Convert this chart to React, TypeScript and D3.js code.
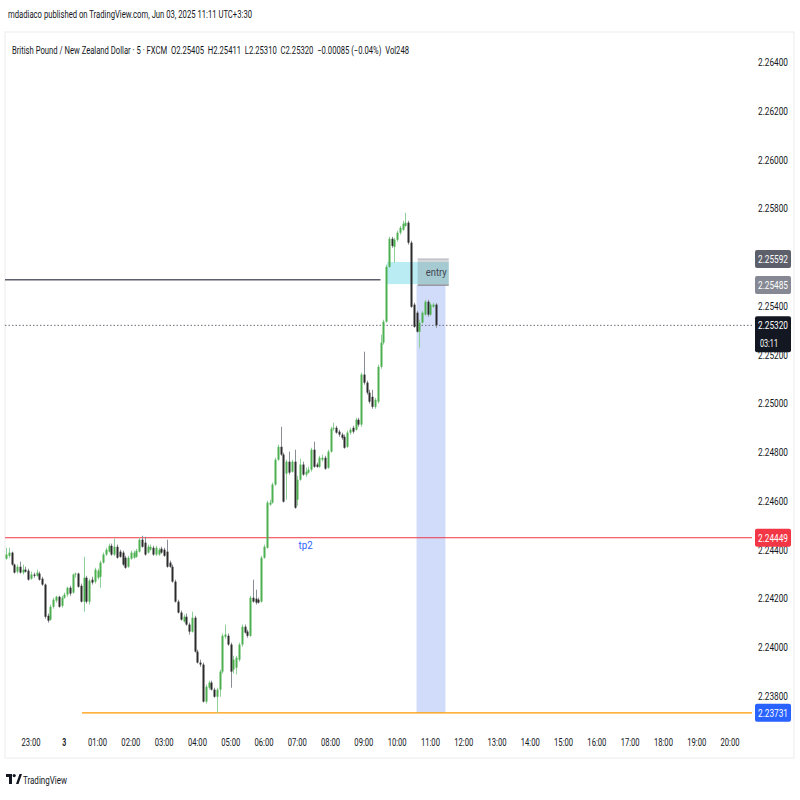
import React from "react";
import * as d3 from "d3";

// ---------- DATA ----------
// 5-minute candles, GBP/NZD (FXCM), first candle 22:15 on Jun 2
const firstCandleTime = new Date(2025, 5, 2, 22, 15);
const candleMinutes = 5;

// [open, high, low, close]
const candles: [number, number, number, number][] = [
  [2.24363, 2.24408, 2.24359, 2.2438],
  [2.24375, 2.24408, 2.24367, 2.24388],
  [2.24388, 2.24392, 2.24334, 2.24339],
  [2.24339, 2.24343, 2.24302, 2.24306],
  [2.2431, 2.24339, 2.24302, 2.2433],
  [2.2433, 2.24351, 2.24302, 2.24306],
  [2.24306, 2.24339, 2.24298, 2.24318],
  [2.24318, 2.2433, 2.24306, 2.2431],
  [2.24314, 2.24322, 2.24273, 2.24277],
  [2.24281, 2.2431, 2.24277, 2.24298],
  [2.24298, 2.24306, 2.24285, 2.24293],
  [2.24293, 2.24318, 2.24289, 2.24306],
  [2.24302, 2.2431, 2.24273, 2.24277],
  [2.24281, 2.24289, 2.24252, 2.24257],
  [2.24257, 2.24261, 2.24117, 2.24125],
  [2.24129, 2.24138, 2.24101, 2.24109],
  [2.24113, 2.24175, 2.24109, 2.24166],
  [2.24166, 2.24203, 2.24158, 2.24195],
  [2.24191, 2.24211, 2.24183, 2.24207],
  [2.24207, 2.24211, 2.24162, 2.24166],
  [2.2417, 2.24211, 2.24162, 2.24203],
  [2.24203, 2.24224, 2.24199, 2.24216],
  [2.24216, 2.24248, 2.24207, 2.24244],
  [2.24244, 2.24252, 2.24211, 2.2422],
  [2.24224, 2.24302, 2.2422, 2.24298],
  [2.24298, 2.24306, 2.24285, 2.24302],
  [2.24302, 2.24306, 2.24244, 2.24248],
  [2.24252, 2.24261, 2.24183, 2.24187],
  [2.24187, 2.24371, 2.24146, 2.24285],
  [2.24285, 2.24293, 2.24179, 2.24187],
  [2.24187, 2.24281, 2.24175, 2.24273],
  [2.24277, 2.24289, 2.24257, 2.24265],
  [2.24269, 2.24326, 2.24261, 2.24318],
  [2.24285, 2.24322, 2.24277, 2.24314],
  [2.24289, 2.24355, 2.24244, 2.24347],
  [2.24347, 2.24388, 2.24343, 2.2438],
  [2.2438, 2.24408, 2.24375, 2.244],
  [2.24392, 2.24425, 2.24388, 2.24416],
  [2.24416, 2.24425, 2.24375, 2.2438],
  [2.2438, 2.24445, 2.24375, 2.24412],
  [2.24412, 2.24421, 2.24363, 2.24367],
  [2.24392, 2.244, 2.24367, 2.24371],
  [2.24388, 2.24396, 2.24334, 2.24339],
  [2.24367, 2.24375, 2.24322, 2.24326],
  [2.2433, 2.24375, 2.24326, 2.24367],
  [2.24363, 2.24396, 2.24359, 2.24388],
  [2.24367, 2.24396, 2.24363, 2.24388],
  [2.24371, 2.24404, 2.24367, 2.24396],
  [2.24392, 2.24449, 2.24388, 2.24441],
  [2.24441, 2.24457, 2.24408, 2.24412],
  [2.24429, 2.24453, 2.24375, 2.2438],
  [2.24388, 2.24421, 2.24384, 2.24412],
  [2.244, 2.24421, 2.24396, 2.24412],
  [2.24408, 2.24416, 2.24375, 2.2438],
  [2.2438, 2.24416, 2.24375, 2.24408],
  [2.2438, 2.24408, 2.24375, 2.244],
  [2.24404, 2.24412, 2.24384, 2.24388],
  [2.244, 2.24408, 2.24371, 2.24375],
  [2.24392, 2.24441, 2.24326, 2.2433],
  [2.24347, 2.24355, 2.24326, 2.2433],
  [2.2433, 2.24339, 2.24265, 2.24269],
  [2.24269, 2.24277, 2.24183, 2.24187],
  [2.24187, 2.24195, 2.24138, 2.24142],
  [2.24142, 2.2415, 2.24109, 2.24113],
  [2.24105, 2.24134, 2.24101, 2.24125],
  [2.24125, 2.24138, 2.24088, 2.24093],
  [2.24093, 2.24101, 2.24052, 2.24064],
  [2.24064, 2.24146, 2.2406, 2.24121],
  [2.24121, 2.24129, 2.23978, 2.23982],
  [2.23982, 2.2399, 2.23933, 2.23937],
  [2.23937, 2.23949, 2.2392, 2.23929],
  [2.23929, 2.23937, 2.23773, 2.23777],
  [2.23777, 2.23847, 2.23769, 2.23838],
  [2.23834, 2.23863, 2.23826, 2.23855],
  [2.23855, 2.23863, 2.23822, 2.23826],
  [2.23826, 2.23834, 2.23793, 2.23797],
  [2.23797, 2.23834, 2.23731, 2.23826],
  [2.23826, 2.23908, 2.23797, 2.239],
  [2.239, 2.24056, 2.23892, 2.24047],
  [2.24043, 2.24093, 2.24035, 2.24052],
  [2.24047, 2.24056, 2.24006, 2.24011],
  [2.24011, 2.24019, 2.23834, 2.239],
  [2.23908, 2.23965, 2.23892, 2.23949],
  [2.23916, 2.23965, 2.23888, 2.23957],
  [2.23949, 2.24019, 2.23941, 2.24011],
  [2.24011, 2.24093, 2.24002, 2.24084],
  [2.24084, 2.24093, 2.24056, 2.2406],
  [2.24064, 2.24072, 2.24039, 2.24047],
  [2.24047, 2.24211, 2.24043, 2.24203],
  [2.24203, 2.24277, 2.24183, 2.24187],
  [2.24199, 2.24236, 2.24175, 2.24183],
  [2.24195, 2.24203, 2.24179, 2.24183],
  [2.24187, 2.24375, 2.24183, 2.24367],
  [2.24367, 2.24421, 2.24363, 2.24412],
  [2.24408, 2.24601, 2.24404, 2.24593],
  [2.24585, 2.24605, 2.2458, 2.24593],
  [2.24593, 2.24675, 2.24589, 2.24667],
  [2.24667, 2.24777, 2.24662, 2.24769],
  [2.24769, 2.24831, 2.24765, 2.24822],
  [2.24822, 2.24904, 2.24785, 2.2479],
  [2.2479, 2.24798, 2.24593, 2.24597],
  [2.24712, 2.24769, 2.24605, 2.24761],
  [2.24761, 2.24802, 2.24708, 2.24716],
  [2.2472, 2.24769, 2.24716, 2.24761],
  [2.24761, 2.2481, 2.24568, 2.24572],
  [2.24605, 2.24703, 2.2458, 2.24687],
  [2.24687, 2.24773, 2.24683, 2.24749],
  [2.24749, 2.24761, 2.24703, 2.24708],
  [2.24708, 2.24736, 2.24699, 2.2472],
  [2.24716, 2.2474, 2.24712, 2.24728],
  [2.24728, 2.24818, 2.2472, 2.2481],
  [2.2481, 2.24843, 2.24736, 2.2474],
  [2.24749, 2.24757, 2.24736, 2.2474],
  [2.2474, 2.24785, 2.24736, 2.24777],
  [2.24769, 2.2479, 2.24761, 2.24777],
  [2.24777, 2.24785, 2.24728, 2.24732],
  [2.24736, 2.2481, 2.24732, 2.24802],
  [2.24802, 2.24904, 2.24798, 2.24896],
  [2.24896, 2.24921, 2.24888, 2.249],
  [2.249, 2.24908, 2.24876, 2.2488],
  [2.24884, 2.24892, 2.24863, 2.24872],
  [2.24872, 2.2488, 2.24851, 2.24859],
  [2.24863, 2.24872, 2.24814, 2.24818],
  [2.24822, 2.24888, 2.24818, 2.2488],
  [2.2488, 2.249, 2.24872, 2.24892],
  [2.249, 2.24908, 2.24876, 2.24884],
  [2.24892, 2.24941, 2.24888, 2.24933],
  [2.24933, 2.24941, 2.24904, 2.24913],
  [2.24913, 2.25126, 2.24904, 2.25118],
  [2.25118, 2.25212, 2.25077, 2.25085],
  [2.25085, 2.25093, 2.25036, 2.25044],
  [2.25044, 2.25056, 2.24999, 2.25007],
  [2.25027, 2.25056, 2.24978, 2.24986],
  [2.24986, 2.25023, 2.24978, 2.25015],
  [2.25007, 2.25159, 2.24999, 2.2515],
  [2.2515, 2.25282, 2.25142, 2.25249],
  [2.25249, 2.25343, 2.25241, 2.25335],
  [2.25335, 2.25569, 2.25331, 2.2556],
  [2.2556, 2.25683, 2.25556, 2.25675],
  [2.25675, 2.25683, 2.25638, 2.25646],
  [2.25642, 2.25679, 2.25577, 2.25671],
  [2.25671, 2.25708, 2.25663, 2.257],
  [2.257, 2.25728, 2.25692, 2.2572],
  [2.25712, 2.25749, 2.25708, 2.25737],
  [2.25728, 2.25782, 2.25724, 2.25741],
  [2.25741, 2.25749, 2.25651, 2.25659],
  [2.25659, 2.25667, 2.25392, 2.25396],
  [2.25405, 2.25413, 2.2531, 2.25314],
  [2.25372, 2.2538, 2.2529, 2.25294],
  [2.25294, 2.25343, 2.25228, 2.25331],
  [2.25331, 2.2538, 2.25327, 2.25372],
  [2.25364, 2.25425, 2.25359, 2.25417],
  [2.25417, 2.25425, 2.25355, 2.25364],
  [2.25364, 2.25413, 2.25359, 2.25405],
  [2.25396, 2.25413, 2.25392, 2.25405],
  [2.25405, 2.25411, 2.2531, 2.2532],
];

const priceTicks = [2.238, 2.24, 2.242, 2.244, 2.246, 2.248, 2.25, 2.252, 2.254, 2.256, 2.258, 2.26, 2.262, 2.264];
const timeTickLabels = ["23:00", "3", "01:00", "02:00", "03:00", "04:00", "05:00", "06:00", "07:00", "08:00", "09:00", "10:00", "11:00", "12:00", "13:00", "14:00", "15:00", "16:00", "17:00", "18:00", "19:00", "20:00"];
const firstTickTime = new Date(2025, 5, 2, 23, 0);

// drawings
const tp2Level = 2.24449;
const lowLevel = 2.23731;
const lastPrice = 2.2532;
const greyRayLevel = 2.25507;
const entryTop = 2.25592;
const entryBottom = 2.25485;
const cyanTop = 2.2558;
const cyanBottom = 2.25489;
const greyRayEnd = new Date(2025, 5, 3, 9, 30);
const cyanStart = new Date(2025, 5, 3, 9, 42);
const boxEnd = new Date(2025, 5, 3, 11, 33);
const entryStart = new Date(2025, 5, 3, 10, 37);
const rangeStart = new Date(2025, 5, 3, 10, 35);
const rangeEnd = new Date(2025, 5, 3, 11, 27);
const lowLineStart = new Date(2025, 5, 3, 0, 32);
const tp2LabelTime = new Date(2025, 5, 3, 7, 15);

const headerTitle = "mdadiaco published on TradingView.com, Jun 03, 2025 11:11 UTC+3:30";
const headerSymbol = "British Pound / New Zealand Dollar · 5 · FXCM  O2.25405  H2.25411  L2.25310  C2.25320  −0.00085 (−0.04%)  Vol248";
const countdown = "03:11";

// ---------- STYLE ----------
const FONT = "Roboto, 'Liberation Sans', sans-serif";
const TEXT = "#131722";
const GREEN = "#4caf50";
const GREEN_WICK = "#8fd09a";
const BLACK = "#2a2a2a";
const BLACK_WICK = "#8a8d96";

export default function App() {
  const frame = { left: 5, right: 794, top: 32, bottom: 758 };
  const plotRight = 752;
  const x = d3
    .scaleTime()
    .domain([new Date(2025, 5, 2, 23, 0), new Date(2025, 5, 3, 20, 0)])
    .range([31, 730]);
  const y = d3.scaleLinear().domain([2.238, 2.264]).range([696, 62]);

  const candleTime = (i: number) => d3.timeMinute.offset(firstCandleTime, i * candleMinutes);
  const timeTicks = timeTickLabels.map((_, i) => d3.timeHour.offset(firstTickTime, i));

  const priceLabel = (v: number) => v.toFixed(5);
  const boxedLevels = [entryTop, entryBottom, tp2Level, lowLevel, lastPrice];
  const visibleTicks = priceTicks.filter((v) => boxedLevels.every((b) => Math.abs(y(v) - y(b)) > 5));

  const labelBox = (v: number, fill: string, color: string, key: string) => {
    const cy = y(v);
    return (
      <g key={key}>
        <rect x={755} y={cy - 9} width={36} height={18} rx={2} fill={fill} />
        <text x={773} y={cy + 4} textAnchor="middle" fontSize={11} fill={color} fontFamily={FONT} textLength={30} lengthAdjust="spacingAndGlyphs">
          {priceLabel(v)}
        </text>
      </g>
    );
  };

  return (
    <svg width={800} height={800} style={{ position: "absolute", left: 0, top: 0, background: "#fff" }}>
      <rect x={0} y={0} width={800} height={800} fill="#fff" />
      {/* header */}
      <text x={8} y={18} fontSize={10} fill={TEXT} fontFamily={FONT} textLength={244} lengthAdjust="spacingAndGlyphs">
        {headerTitle}
      </text>
      {/* frame */}
      <rect x={frame.left} y={frame.top} width={frame.right - frame.left} height={frame.bottom - frame.top} fill="#fff" stroke="#ececec" strokeWidth={1} />
      <text x={12} y={54} fontSize={10} fill={TEXT} fontFamily={FONT} textLength={397} lengthAdjust="spacingAndGlyphs" style={{ whiteSpace: "pre" }}>
        {headerSymbol}
      </text>

      <defs>
        <clipPath id="plot">
          <rect x={frame.left} y={frame.top} width={plotRight - frame.left} height={frame.bottom - frame.top - 36} />
        </clipPath>
      </defs>

      <g clipPath="url(#plot)">
        {/* range (lavender) box */}
        <rect x={x(rangeStart)} y={y(entryBottom)} width={x(rangeEnd) - x(rangeStart)} height={y(lowLevel) - y(entryBottom)} fill="#d1dcfa" />
        {/* cyan zone */}
        <rect x={x(cyanStart)} y={y(cyanTop)} width={x(boxEnd) - x(cyanStart)} height={y(cyanBottom) - y(cyanTop)} fill="#b9ecf3" />
        {/* entry box */}
        <rect x={x(entryStart)} y={y(entryTop)} width={x(boxEnd) - x(entryStart)} height={y(entryBottom) - y(entryTop)} fill="#787b86" fillOpacity={0.3} />
        <line x1={x(entryStart)} x2={x(boxEnd)} y1={y(entryTop)} y2={y(entryTop)} stroke="#b0b3bb" strokeWidth={1} />
        <line x1={x(entryStart)} x2={x(boxEnd)} y1={y(entryBottom)} y2={y(entryBottom)} stroke="#7d808a" strokeWidth={1.2} />
        <text x={(x(entryStart) + x(boxEnd)) / 2 + 3} y={y((entryTop + entryBottom) / 2) + 4} textAnchor="middle" fontSize={11} fill="#434651" fontFamily={FONT} textLength={21} lengthAdjust="spacingAndGlyphs">
          entry
        </text>

        {/* grey horizontal ray */}
        <line x1={frame.left} x2={x(greyRayEnd)} y1={y(greyRayLevel)} y2={y(greyRayLevel)} stroke="#5d606b" strokeWidth={1.3} />

        {/* last price dotted line */}
        <line x1={frame.left} x2={plotRight} y1={y(lastPrice)} y2={y(lastPrice)} stroke="#6b6e78" strokeWidth={1} strokeDasharray="1.5,2" />

        {/* tp2 line */}
        <line x1={frame.left} x2={plotRight} y1={y(tp2Level)} y2={y(tp2Level)} stroke="#f23645" strokeWidth={1} />
        <text x={x(tp2LabelTime)} y={y(tp2Level) + 11} textAnchor="middle" fontSize={11} fill="#2962ff" fontFamily={FONT} textLength={14} lengthAdjust="spacingAndGlyphs">
          tp2
        </text>

        {/* low line */}
        <line x1={x(lowLineStart)} x2={plotRight} y1={y(lowLevel)} y2={y(lowLevel)} stroke="#ff9800" strokeWidth={1.3} />

        {/* candles */}
        {candles.map(([o, h, l, c], i) => {
          const cx = Math.round(x(candleTime(i))) + 0.5;
          const up = c >= o;
          const yTop = y(Math.max(o, c));
          const yBot = y(Math.min(o, c));
          return (
            <g key={i}>
              <line x1={cx} x2={cx} y1={y(h)} y2={y(l)} stroke={up ? GREEN_WICK : BLACK_WICK} strokeWidth={1} />
              <rect x={cx - 1} y={yTop} width={2} height={Math.max(1, yBot - yTop)} fill={up ? GREEN : BLACK} />
            </g>
          );
        })}
      </g>

      {/* price axis */}
      {visibleTicks.map((v) => (
        <text key={v} x={773} y={y(v) + 4} textAnchor="middle" fontSize={11} fill={TEXT} fontFamily={FONT} textLength={30} lengthAdjust="spacingAndGlyphs">
          {priceLabel(v)}
        </text>
      ))}
      {labelBox(entryTop, "#5d606b", "#fff", "et")}
      {labelBox(entryBottom, "#868993", "#fff", "eb")}
      {labelBox(tp2Level, "#f23645", "#fff", "tp")}
      {labelBox(lowLevel, "#2962ff", "#fff", "lw")}
      <g>
        <rect x={755} y={y(lastPrice) - 9} width={36} height={36} rx={2} fill="#131722" />
        <text x={773} y={y(lastPrice) + 4} textAnchor="middle" fontSize={11} fill="#fff" fontFamily={FONT} textLength={30} lengthAdjust="spacingAndGlyphs">
          {priceLabel(lastPrice)}
        </text>
        <text x={760} y={y(lastPrice) + 22} fontSize={11} fill="#fff" fontFamily={FONT} textLength={18} lengthAdjust="spacingAndGlyphs">
          {countdown}
        </text>
      </g>

      {/* time axis */}
      {timeTicks.map((t, i) => {
        const label = timeTickLabels[i];
        return (
          <text key={label} x={x(t)} y={746} textAnchor="middle" fontSize={10.5} fill={TEXT} fontFamily={FONT} textLength={label.length === 1 ? 4 : 19} lengthAdjust="spacingAndGlyphs" fontWeight={label.length === 1 ? 700 : 400}>
            {label}
          </text>
        );
      })}

      {/* TradingView logo */}
      <g fill="#131722">
        <rect x={6} y={774} width={6} height={3} />
        <rect x={9} y={774} width={3} height={10} />
        <circle cx={14.2} cy={775.6} r={1.6} />
        <polygon points="16,784 19.5,774 22,774 18.5,784" />
      </g>
      <text x={23} y={784} fontSize={11} fill={TEXT} fontFamily={FONT} textLength={44} lengthAdjust="spacingAndGlyphs">
        TradingView
      </text>
    </svg>
  );
}
